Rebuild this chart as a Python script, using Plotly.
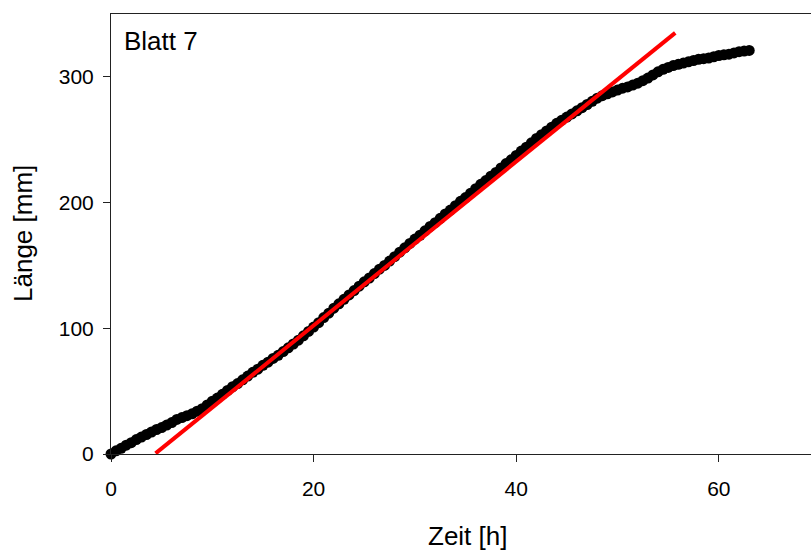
import plotly.graph_objects as go

# Measured time points [h] (0.5 h sampling) and leaf length [mm]
zeit_h = [i * 0.5 for i in range(127)]
laenge_mm = [
    0, 2.5, 4.5, 7, 9, 11.5, 13.5, 15.5, 17.5, 19.5,
    21, 23, 25, 27.5, 29, 30.5, 32, 34, 36, 39,
    42, 44.5, 47.5, 50.5, 53.5, 56, 59, 62, 65, 67.5,
    70.5, 73, 76, 78.5, 81.5, 84.5, 87.5, 90.5, 94, 97.5,
    101, 104.5, 108.5, 112, 116, 119.5, 123, 126.5, 130, 133.5,
    137, 140, 143.5, 147, 150, 153.5, 157, 160.5, 164, 167.5,
    171, 174, 177.5, 181, 184, 187.5, 191, 194, 197.5, 201,
    204, 207.5, 211, 214.5, 217.5, 221, 224, 227.5, 231, 234,
    237.5, 241, 244, 247.5, 251, 254, 257, 260, 263, 265.5,
    268, 270.5, 273, 275.5, 278, 280.5, 283, 285, 286.5, 288,
    289.5, 291, 292, 293.5, 295, 297, 299, 301.5, 304, 306,
    307.5, 309, 310, 311, 312, 313, 314, 314.5, 315, 316,
    317, 317.5, 318, 319, 320, 320.5, 321,
]

# Linear fit (red line) end points
fit_x = [4.4, 55.7]
fit_y = [0.5, 335.0]

x_ticks = [0, 20, 40, 60]
y_ticks = [0, 100, 200, 300]

FONT = "Arial, 'Liberation Sans', sans-serif"

fig = go.Figure()
fig.add_trace(go.Scatter(
    x=zeit_h, y=laenge_mm, mode="markers",
    marker=dict(color="black", size=11, line=dict(width=0)),
    showlegend=False, cliponaxis=False,
))
fig.add_trace(go.Scatter(
    x=fit_x, y=fit_y, mode="lines",
    line=dict(color="#ff0000", width=4),
    showlegend=False,
))

fig.update_layout(
    width=811, height=551,
    margin=dict(l=111, r=0, t=14, b=97),
    paper_bgcolor="white", plot_bgcolor="white",
    font=dict(family=FONT, color="black", size=21),
    xaxis=dict(
        range=[0, 69.1], tickvals=x_ticks, ticks="outside", ticklen=7,
        tickwidth=1, tickcolor="#222", showline=True, linecolor="#222",
        linewidth=1, mirror=True, showgrid=False, zeroline=False,
        tickfont=dict(size=21), ticklabelstandoff=9,
    ),
    yaxis=dict(
        range=[0, 350], tickvals=y_ticks, ticks="outside", ticklen=7,
        tickwidth=1, tickcolor="#222", showline=True, linecolor="#222",
        linewidth=1, mirror=False, showgrid=False, zeroline=False,
        tickfont=dict(size=21), ticklabelstandoff=5,
    ),
    annotations=[
        dict(text="Blatt 7", xref="paper", yref="paper", x=0, y=1,
             xanchor="left", yanchor="top", xshift=11, yshift=-10,
             showarrow=False, font=dict(size=26)),
        dict(text="Zeit [h]", xref="paper", yref="paper", x=0.5, y=0,
             xanchor="center", yanchor="middle", xshift=6, yshift=-82,
             showarrow=False, font=dict(size=26)),
        dict(text="Länge [mm]", xref="paper", yref="paper", x=0, y=0.5,
             xanchor="center", yanchor="middle", xshift=-88, textangle=-90,
             showarrow=False, font=dict(size=26)),
    ],
)

fig.write_html(
    "out.html",
    config={"displayModeBar": False},
    post_script="document.body.style.margin='0';document.body.style.overflow='hidden';",
)
